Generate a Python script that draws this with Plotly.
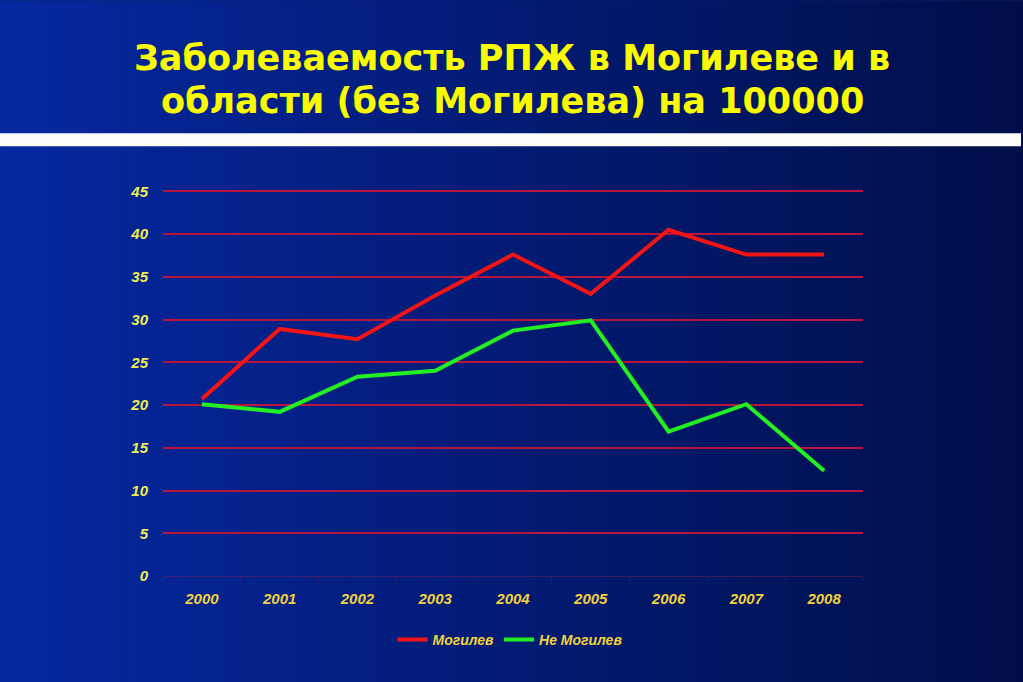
import plotly.graph_objects as go

years = ["2000", "2001", "2002", "2003", "2004", "2005", "2006", "2007", "2008"]
mogilev = [20.7, 28.9, 27.7, 32.8, 37.6, 33.0, 40.5, 37.6, 37.6]
ne_mogilev = [20.1, 19.2, 23.3, 24.0, 28.7, 29.9, 16.9, 20.1, 12.3]
y_ticks = [0, 5, 10, 15, 20, 25, 30, 35, 40, 45]

W, H = 1023, 682
UNIT = 385 / 45.0
YMAX = 45.15
L, R, B = 163, 863, 576
T = B - YMAX * UNIT
PW, PH = R - L, B - T


def xp(px):
    return (px - L) / PW


def yp(py):
    return (B - py) / PH


fig = go.Figure()
fig.add_trace(go.Scatter(x=years, y=mogilev, mode="lines", name="Могилев",
                         line=dict(color="#f51414", width=4)))
fig.add_trace(go.Scatter(x=years, y=ne_mogilev, mode="lines", name="Не Могилев",
                         line=dict(color="#22f022", width=4)))

shapes = []
# horizontal gradient background
N = 160
c0 = (6, 40, 160)
c1 = (0, 14, 72)
for i in range(N):
    t = i / (N - 1)
    c = tuple(round(c0[k] + (c1[k] - c0[k]) * t) for k in range(3))
    x0 = W * i / N
    x1 = W * (i + 1) / N + 0.6
    shapes.append(dict(type="rect", xref="paper", yref="paper",
                       x0=xp(x0), x1=xp(x1), y0=yp(H), y1=yp(0),
                       fillcolor="rgb(%d,%d,%d)" % c, line=dict(width=0),
                       layer="below"))
# white band
shapes.append(dict(type="rect", xref="paper", yref="paper",
                   x0=xp(0), x1=xp(1021), y0=yp(146), y1=yp(133),
                   fillcolor="#fdfdfa", line=dict(width=0), layer="below"))

title_font = dict(family="DejaVu Sans", size=35, color="#fafa00", weight="bold")
annotations = [
    dict(text="Заболеваемость РПЖ в Могилеве и в", xref="paper", yref="paper",
         x=xp(512), y=yp(58), xanchor="center", yanchor="middle",
         showarrow=False, font=title_font),
    dict(text="области (без Могилева) на 100000", xref="paper", yref="paper",
         x=xp(512), y=yp(101), xanchor="center", yanchor="middle",
         showarrow=False, font=title_font),
]

tick_font_y = dict(family="Liberation Sans", size=15, color="#eeee50",
                   weight="bold", style="italic")
tick_font_x = dict(family="Liberation Sans", size=15, color="#f0d040",
                   weight="bold", style="italic")

fig.update_layout(
    width=W, height=H,
    margin=dict(l=L, r=W - R, t=T, b=H - B, pad=0),
    paper_bgcolor="#04206e",
    plot_bgcolor="rgba(0,0,0,0)",
    shapes=shapes,
    annotations=annotations,
    showlegend=True,
    legend=dict(orientation="h", x=xp(510), xanchor="center",
                y=yp(640), yanchor="middle", bgcolor="rgba(0,0,0,0)",
                font=dict(family="Liberation Sans", size=14, color="#f0d040",
                          weight="bold", style="italic")),
    xaxis=dict(type="category", range=[-0.5, 8.5], showgrid=False,
               showline=False, zeroline=False, ticks="outside", ticklen=4,
               tickcolor="rgba(140,30,90,0.35)", tickson="boundaries",
               tickfont=tick_font_x, ticklabelstandoff=12),
    yaxis=dict(range=[0, YMAX], tickvals=y_ticks, showgrid=True,
               gridcolor="#b8143e", gridwidth=1.5, zeroline=True,
               zerolinecolor="rgba(130,30,90,0.45)", zerolinewidth=1,
               showline=False, ticks="", tickfont=tick_font_y,
               ticklabelstandoff=14),
)

fig.write_html("out.html",
               config={"displayModeBar": False},
               post_script="document.body.style.margin='0';"
                           "document.body.style.padding='0';"
                           "document.body.style.overflow='hidden';")
